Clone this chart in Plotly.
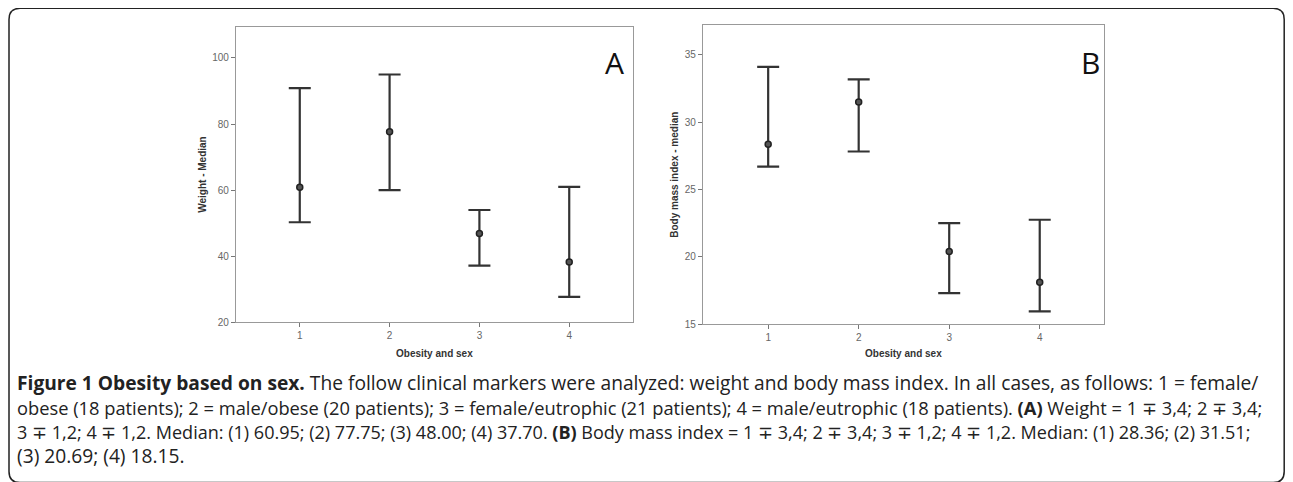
import plotly.graph_objects as go

OFF = 8            # page body margin in the browser
K = 490 / 482      # the photographed page height is squeezed into 482 px
W, H = 1293 - 2 * OFF, 483

groups = [1, 2, 3, 4]
weight_median = [60.9, 77.7, 46.9, 38.3]
weight_upper = [90.9, 95.0, 54.0, 61.0]
weight_lower = [50.3, 60.0, 37.2, 27.7]
bmi_median = [28.35, 31.5, 20.4, 18.1]
bmi_upper = [34.1, 33.18, 22.5, 22.75]
bmi_lower = [26.7, 27.82, 17.3, 15.95]

weight_ticks = [20, 40, 60, 80, 100]
bmi_ticks = [15, 20, 25, 30, 35]

caption_lines = [
    "<b>Figure 1 Obesity based on sex.</b> The follow clinical markers were analyzed: weight and body mass index. In all cases, as follows: 1 = female/",
    "obese (18 patients); 2 = male/obese (20 patients); 3 = female/eutrophic (21 patients); 4 = male/eutrophic (18 patients). <b>(A)</b> Weight = 1 ∓ 3,4; 2 ∓ 3,4;",
    "3 ∓ 1,2; 4 ∓ 1,2. Median: (1) 60.95; (2) 77.75; (3) 48.00; (4) 37.70. <b>(B)</b> Body mass index = 1 ∓ 3,4; 2 ∓ 3,4; 3 ∓ 1,2; 4 ∓ 1,2. Median: (1) 28.36; (2) 31.51;",
    "(3) 20.69; (4) 18.15.",
]


def px(x):
    return (x - OFF) / W


def py(y):
    return 1 - (y * K - OFF) / H


DARK = "#333333"

fig = go.Figure()


def add_panel(med, up, lo, xa, ya):
    fig.add_trace(go.Scatter(
        x=groups, y=med, mode="markers", xaxis=xa, yaxis=ya,
        marker=dict(symbol="circle", size=6, color="#555555",
                    line=dict(color="#222222", width=1.5)),
        error_y=dict(type="data", symmetric=False,
                     array=[u - m for u, m in zip(up, med)],
                     arrayminus=[m - l for m, l in zip(med, lo)],
                     thickness=2.2, width=11, color=DARK),
        showlegend=False, hoverinfo="skip",
    ))


add_panel(weight_median, weight_upper, weight_lower, "x", "y")
add_panel(bmi_median, bmi_upper, bmi_lower, "x2", "y2")

tickfont = dict(family="Liberation Sans Narrow, Liberation Sans, Arial", size=10, color="#666666")
axcommon = dict(showgrid=False, zeroline=False, showline=True, mirror=True,
                linecolor="#999999", linewidth=1.2, ticks="outside", ticklen=4,
                tickcolor="#777777", tickfont=tickfont)
titlefont = dict(family="Liberation Sans Narrow, Liberation Sans, Arial", size=10, color="#333333")

fig.update_layout(
    width=W, height=H, margin=dict(l=0, r=0, t=0, b=0),
    paper_bgcolor="white", plot_bgcolor="white",
    xaxis=dict(domain=[px(236), px(633)], range=[0.29, 4.71], tickvals=groups,
               anchor="y", **axcommon),
    yaxis=dict(domain=[py(321), py(27)], range=[20, 109.3], tickvals=weight_ticks,
               anchor="x", **axcommon),
    xaxis2=dict(domain=[px(703), px(1104)], range=[0.28, 4.71], tickvals=groups,
                anchor="y2", **axcommon),
    yaxis2=dict(domain=[py(322.7), py(25)], range=[15, 37.2], tickvals=bmi_ticks,
                anchor="x2", **axcommon),
)

annotations = []
# axis titles
annotations.append(dict(text="<b>Obesity and sex</b>", x=px(434.5), y=py(352), xref="paper", yref="paper",
                        showarrow=False, font=titlefont, xanchor="center", yanchor="middle"))
annotations.append(dict(text="<b>Obesity and sex</b>", x=px(903), y=py(352), xref="paper", yref="paper",
                        showarrow=False, font=titlefont, xanchor="center", yanchor="middle"))
annotations.append(dict(text="<b>Weight - Median</b>", x=px(203), y=py(174), xref="paper", yref="paper",
                        showarrow=False, font=titlefont, textangle=-90, xanchor="center", yanchor="middle"))
annotations.append(dict(text="<b>Body mass index - median</b>", x=px(675), y=py(174), xref="paper", yref="paper",
                        showarrow=False, font=titlefont, textangle=-90, xanchor="center", yanchor="middle"))
# panel letters
letterfont = dict(family="Open Sans, Liberation Sans", size=30, color="#111111")
annotations.append(dict(text="A", x=px(614), y=py(62), xref="paper", yref="paper",
                        showarrow=False, font=letterfont, xanchor="center", yanchor="middle"))
annotations.append(dict(text="B", x=px(1090), y=py(62), xref="paper", yref="paper",
                        showarrow=False, font=letterfont, xanchor="center", yanchor="middle"))
# caption
cap_y = [381.3, 406, 430, 453.5]
cap_size = [19.2, 18.3, 18.05, 19.2]
for line, yy, sz in zip(caption_lines, cap_y, cap_size):
    annotations.append(dict(text=line, x=px(15), y=py(yy), xref="paper", yref="paper",
                            showarrow=False, xanchor="left", yanchor="middle",
                            font=dict(family="Open Sans, Liberation Sans", size=sz, color="#222222")))
fig.update_layout(annotations=annotations)

# rounded border
x0, y0, x1, y1, r = 9, 8.2, 1284.2, 480.5, 11
path = (f"M {px(x0)},{py(y0 + r)} Q {px(x0)},{py(y0)} {px(x0 + r)},{py(y0)} "
        f"L {px(x1 - r)},{py(y0)} Q {px(x1)},{py(y0)} {px(x1)},{py(y0 + r)} "
        f"L {px(x1)},{py(y1 - r)} Q {px(x1)},{py(y1)} {px(x1 - r)},{py(y1)} "
        f"L {px(x0 + r)},{py(y1)} Q {px(x0)},{py(y1)} {px(x0)},{py(y1 - r)} Z")
fig.add_shape(type="path", path=path, xref="paper", yref="paper",
              line=dict(color="#222222", width=1.5))

fig.write_html("out.html")
